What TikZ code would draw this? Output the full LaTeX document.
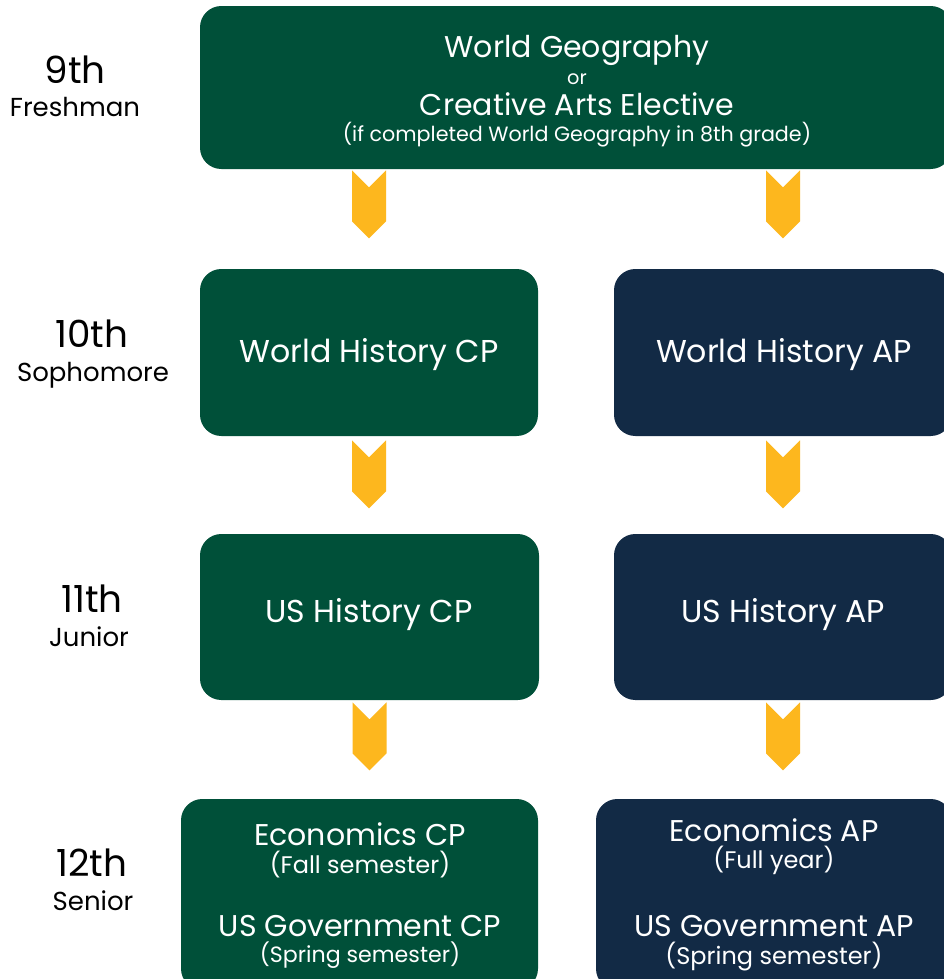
\documentclass[tikz,border=0pt]{standalone}
\usepackage{fontspec}
\setmainfont{Poppins}
\usetikzlibrary{fit,calc}
\definecolor{cpgreen}{RGB}{0,80,57}
\definecolor{apnavy}{RGB}{18,42,69}
\definecolor{chevgold}{RGB}{253,183,30}
\tikzset{
  box/.style={rounded corners=16pt, inner sep=0pt, draw=none},
  cpbox/.style={box, fill=cpgreen},
  apbox/.style={box, fill=apnavy},
  boxtxt/.style={text=white, anchor=base, inner sep=0pt},
  title/.style={boxtxt, font=\fontsize{22.5pt}{26pt}\selectfont},
  bigtitle/.style={boxtxt, font=\fontsize{23.7pt}{27pt}\selectfont},
  subtitle/.style={boxtxt, font=\fontsize{18pt}{21pt}\selectfont},
  ortxt/.style={boxtxt, font=\fontsize{14.5pt}{17pt}\selectfont},
  grade/.style={text=black, anchor=base, inner sep=0pt, font=\fontsize{28pt}{32pt}\selectfont},
  gradename/.style={text=black, anchor=base, inner sep=0pt, font=\fontsize{19.5pt}{23pt}\selectfont},
  chev/.pic={\fill[chevgold] (-17,0) -- (0,17) -- (17,0) -- (17,51) -- (0,68) -- (-17,51) -- cycle;}
}
\begin{document}
\begin{tikzpicture}[x=0.75pt,y=-0.75pt]
\useasboundingbox (0,0) rectangle (944,979);
\clip (0,0) rectangle (944,979);
\fill[white] (0,0) rectangle (944,979);

% grade labels
\node[grade] (g9) at (75,83) {9th};
\node[gradename] (n9) at (75,116) {Freshman};
\node[grade] (g10) at (92,347) {10th};
\node[gradename] (n10) at (93,381) {Sophomore};
\node[grade] (g11) at (92,612) {11th};
\node[gradename] (n11) at (89,646) {Junior};
\node[grade] (g12) at (92,876) {12th};
\node[gradename] (n12) at (93,910) {Senior};

% boxes
\node[cpbox, fit={(200,6) (952,169)}] (wg) {};
\node[cpbox, fit={(200,269) (538,436)}] (whcp) {};
\node[apbox, fit={(614,269) (952,436)}] (whap) {};
\node[cpbox, fit={(200,534) (539,700)}] (uscp) {};
\node[apbox, fit={(614,534) (952,700)}] (usap) {};
\node[cpbox, fit={(181,799) (538,990)}] (eccp) {};
\node[apbox, fit={(596,799) (952,990)}] (ecap) {};

% box texts
\node[title] (t1) at (577,57) {World Geography};
\node[ortxt] (t2) at (577,84) {or};
\node[title] (t3) at (577,115) {Creative Arts Elective};
\node[subtitle, font=\fontsize{15.5pt}{18pt}\selectfont] (t4) at (577,141) {(if completed World Geography in 8th grade)};

\node[bigtitle] (t5) at (369,362) {World History CP};
\node[bigtitle] (t6) at (784,362) {World History AP};
\node[bigtitle] (t7) at (369,622) {US History CP};
\node[bigtitle] (t8) at (783,622) {US History AP};

\node[title] (t9) at (360,845) {Economics CP};
\node[subtitle] (t10) at (360,873) {(Fall semester)};
\node[title] (t11) at (360,936) {US Government CP};
\node[subtitle, font=\fontsize{16.6pt}{20pt}\selectfont] (t12) at (360,962) {(Spring semester)};

\node[title] (t13) at (774,841) {Economics AP};
\node[subtitle] (t14) at (774,868) {(Full year)};
\node[title] (t15) at (774,936) {US Government AP};
\node[subtitle] (t16) at (774,964) {(Spring semester)};

% chevron connectors
\pic at ($(wg.south -| whcp.south)+(0,1)$) {chev};
\pic at ($(wg.south -| whap.south)+(0,1)$) {chev};
\pic at ($(whcp.south)+(0,4)$) {chev};
\pic at ($(whap.south)+(0,4)$) {chev};
\pic at ($(uscp.south)+(0,2)$) {chev};
\pic at ($(usap.south)+(0,2)$) {chev};
\end{tikzpicture}
\end{document}
